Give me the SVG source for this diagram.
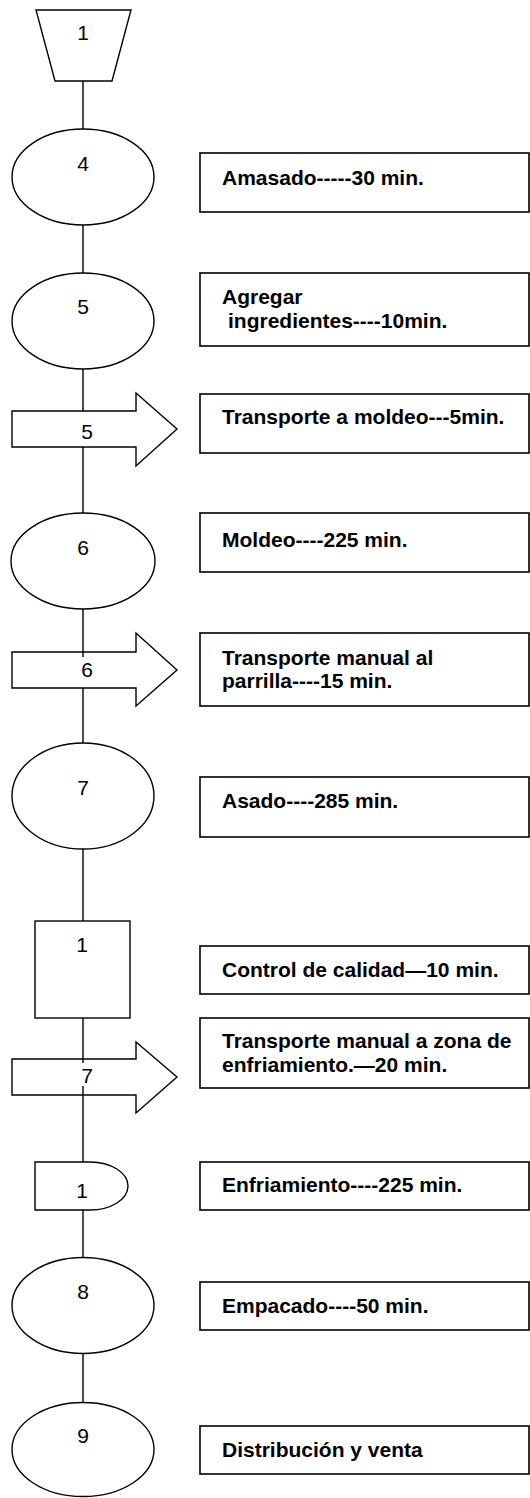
<svg xmlns="http://www.w3.org/2000/svg" width="530" height="1498" viewBox="0 0 530 1498">
  <style>
    .shape { fill: #fff; stroke: #000; stroke-width: 1.4; }
    .box { fill: #fff; stroke: #000; stroke-width: 1.6; }
    .link { stroke: #000; stroke-width: 1.4; fill: none; }
    .num { font-family: "Liberation Sans", Arial, sans-serif; font-size: 21px; text-anchor: middle; fill: #000; }
    .lbl { font-family: "Liberation Sans", Arial, sans-serif; font-size: 21px; font-weight: bold; fill: #000; }
  </style>
  <rect width="530" height="1498" fill="#fff"/>

  <!-- vertical flow line segments -->
  <g id="connectors">
    <line class="link" x1="83" y1="81" x2="83" y2="129"/>
    <line class="link" x1="83" y1="225" x2="83" y2="273"/>
    <line class="link" x1="83" y1="369" x2="83" y2="411"/>
    <line class="link" x1="83" y1="447" x2="83" y2="513"/>
    <line class="link" x1="83" y1="609" x2="83" y2="657"/>
    <line class="link" x1="83" y1="681" x2="83" y2="744"/>
    <line class="link" x1="83" y1="849" x2="83" y2="921"/>
    <line class="link" x1="83" y1="1018" x2="83" y2="1063"/>
    <line class="link" x1="83" y1="1086" x2="83" y2="1162"/>
    <line class="link" x1="83" y1="1210" x2="83" y2="1258"/>
    <line class="link" x1="83" y1="1353" x2="83" y2="1402"/>
  </g>

  <!-- start: storage trapezoid -->
  <g id="n-start">
    <polygon class="shape" points="36,10 131,10 112,81 55,81"/>
    <text class="num" x="83" y="40">1</text>
  </g>

  <g id="n-op4">
    <ellipse class="shape" cx="83" cy="177" rx="71" ry="48"/>
    <text class="num" x="83" y="171">4</text>
  </g>
  <g id="d-op4">
    <rect class="box" x="200" y="153" width="329" height="59"/>
    <text class="lbl" x="222" y="185">Amasado-----30 min.</text>
  </g>

  <g id="n-op5">
    <ellipse class="shape" cx="83" cy="321" rx="71" ry="48"/>
    <text class="num" x="83" y="314">5</text>
  </g>
  <g id="d-op5">
    <rect class="box" x="200" y="273" width="329" height="73"/>
    <text class="lbl" x="222" y="304">Agregar</text>
    <text class="lbl" x="228" y="328">ingredientes----10min.</text>
  </g>

  <g id="n-tr5">
    <polygon class="shape" points="12,411 136,411 136,393 177,429 136,466 136,447 12,447"/>
    <text class="num" x="87" y="439">5</text>
  </g>
  <g id="d-tr5">
    <rect class="box" x="200" y="394" width="329" height="59"/>
    <text class="lbl" x="222" y="424">Transporte a moldeo---5min.</text>
  </g>

  <g id="n-op6">
    <ellipse class="shape" cx="83" cy="561" rx="72" ry="48"/>
    <text class="num" x="83" y="555">6</text>
  </g>
  <g id="d-op6">
    <rect class="box" x="200" y="513" width="329" height="59"/>
    <text class="lbl" x="222" y="547">Moldeo----225 min.</text>
  </g>

  <g id="n-tr6">
    <polygon class="shape" points="12,652 136,652 136,633 177,670 136,706 136,688 12,688"/>
    <line class="link" x1="83" y1="652" x2="83" y2="657"/>
    <text class="num" x="87" y="677">6</text>
  </g>
  <g id="d-tr6">
    <rect class="box" x="200" y="633" width="329" height="73"/>
    <text class="lbl" x="222" y="665">Transporte manual al</text>
    <text class="lbl" x="222" y="688">parrilla----15 min.</text>
  </g>

  <g id="n-op7">
    <ellipse class="shape" cx="83" cy="796" rx="71" ry="53"/>
    <text class="num" x="83" y="795">7</text>
  </g>
  <g id="d-op7">
    <rect class="box" x="200" y="777" width="329" height="60"/>
    <text class="lbl" x="222" y="808">Asado----285 min.</text>
  </g>

  <g id="n-insp1">
    <rect class="shape" x="35" y="921" width="95" height="97"/>
    <text class="num" x="82" y="952">1</text>
  </g>
  <g id="d-insp1">
    <rect class="box" x="200" y="946" width="329" height="48"/>
    <text class="lbl" x="222" y="977">Control de calidad—10 min.</text>
  </g>

  <g id="n-tr7">
    <polygon class="shape" points="12,1059 136,1059 136,1042 177,1077 136,1113 136,1095 12,1095"/>
    <line class="link" x1="83" y1="1059" x2="83" y2="1063"/>
    <line class="link" x1="83" y1="1086" x2="83" y2="1095"/>
    <text class="num" x="87" y="1083">7</text>
  </g>
  <g id="d-tr7">
    <rect class="box" x="200" y="1018" width="329" height="70"/>
    <text class="lbl" x="222" y="1048">Transporte manual a zona de</text>
    <text class="lbl" x="222" y="1072">enfriamiento.—20 min.</text>
  </g>

  <g id="n-delay1">
    <path class="shape" d="M35,1162 H90 A38,24 0 0 1 90,1210 H35 Z"/>
    <text class="num" x="82" y="1198">1</text>
  </g>
  <g id="d-delay1">
    <rect class="box" x="200" y="1162" width="329" height="48"/>
    <text class="lbl" x="222" y="1192">Enfriamiento----225 min.</text>
  </g>

  <g id="n-op8">
    <ellipse class="shape" cx="83" cy="1305.5" rx="71" ry="48"/>
    <text class="num" x="83" y="1299">8</text>
  </g>
  <g id="d-op8">
    <rect class="box" x="200" y="1282" width="329" height="48"/>
    <text class="lbl" x="222" y="1313">Empacado----50 min.</text>
  </g>

  <g id="n-op9">
    <ellipse class="shape" cx="83" cy="1449.5" rx="71" ry="47"/>
    <text class="num" x="83" y="1443">9</text>
  </g>
  <g id="d-op9">
    <rect class="box" x="200" y="1426" width="329" height="48"/>
    <text class="lbl" x="222" y="1457">Distribución y venta</text>
  </g>
</svg>
